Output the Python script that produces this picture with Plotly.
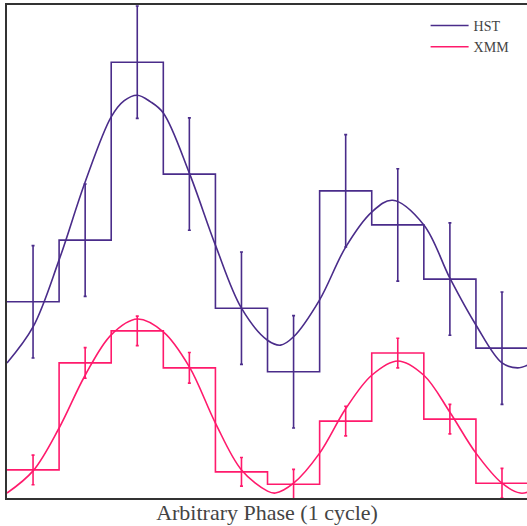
import plotly.graph_objects as go

# Phase bins (10 bins over one cycle)
bin_edges = [0.0, 0.1, 0.2, 0.3, 0.4, 0.5, 0.6, 0.7, 0.8, 0.9, 1.0]
bin_centers = [0.05, 0.15, 0.25, 0.35, 0.45, 0.55, 0.65, 0.75, 0.85, 0.95]

# Binned light curves (arbitrary flux units)
hst_vals = [39.8, 52.3, 88.4, 65.7, 38.5, 25.6, 62.3, 55.4, 44.4, 30.4]
hst_err = [11.4, 11.4, 11.4, 11.4, 11.4, 11.4, 11.4, 11.4, 11.4, 11.4]
xmm_vals = [5.7, 27.4, 33.9, 26.4, 5.3, 2.8, 15.6, 29.4, 16.0, 3.0]
xmm_err = [3.0, 3.1, 3.0, 3.1, 2.9, 3.0, 3.0, 3.0, 3.0, 3.0]

# Fitted model curves, sampled off the figure
hst_fit_phase = [0.0, 0.05, 0.10, 0.15, 0.20, 0.225, 0.25, 0.275, 0.30, 0.35, 0.40,
                 0.45, 0.50, 0.525, 0.55, 0.60, 0.65, 0.70, 0.74, 0.80, 0.85,
                 0.90, 0.95, 0.98, 1.0]
hst_fit = [27.4, 34.7, 48.3, 64.1, 77.3, 80.6, 81.7, 80.4, 78.1, 65.9, 51.3,
           38.5, 32.0, 31.0, 32.7, 40.2, 50.9, 58.0, 60.4, 55.4, 44.6,
           35.1, 27.4, 26.4, 27.0]
xmm_fit_phase = [0.0, 0.05, 0.10, 0.15, 0.20, 0.25, 0.30, 0.35, 0.40, 0.45, 0.50,
                 0.515, 0.55, 0.60, 0.65, 0.70, 0.75, 0.80, 0.85, 0.90, 0.95,
                 0.985, 1.0]
xmm_fit = [1.0, 5.5, 14.2, 24.9, 33.1, 36.3, 33.7, 26.6, 15.2, 5.7, 1.4,
           1.0, 3.0, 9.1, 18.1, 24.9, 27.8, 24.9, 17.4, 9.1, 3.0,
           1.0, 1.2]

HST_COLOR = "#4a2c8a"
XMM_COLOR = "#ff1a6c"

fig = go.Figure()

for name, vals, err, phase, fit, color in [
    ("HST", hst_vals, hst_err, hst_fit_phase, hst_fit, HST_COLOR),
    ("XMM", xmm_vals, xmm_err, xmm_fit_phase, xmm_fit, XMM_COLOR),
]:
    # step histogram
    fig.add_trace(go.Scatter(
        x=bin_edges, y=vals + [vals[-1]], mode="lines",
        line=dict(color=color, width=1.6, shape="hv"),
        showlegend=False, hoverinfo="skip"))
    # error bars
    fig.add_trace(go.Scatter(
        x=bin_centers, y=vals, mode="markers",
        marker=dict(size=1, color=color, opacity=0),
        error_y=dict(type="data", array=err, visible=True, color=color,
                     thickness=1.6, width=1.5),
        showlegend=False, hoverinfo="skip"))
    # fit curve
    fig.add_trace(go.Scatter(
        x=phase, y=fit, mode="lines", name=name,
        line=dict(color=color, width=1.6, shape="spline", smoothing=1.0)))

fig.update_layout(
    width=527, height=526,
    margin=dict(l=7, r=0, t=5, b=28),
    paper_bgcolor="white", plot_bgcolor="white",
    font=dict(family="Liberation Serif, DejaVu Serif, serif", color="#444444"),
    showlegend=True,
    legend=dict(x=0.805, y=0.99, xanchor="left", yanchor="top",
                bgcolor="rgba(0,0,0,0)", borderwidth=0, itemwidth=38,
                font=dict(size=14, color="#444444"), tracegroupgap=0),
    xaxis=dict(range=[0, 0.998], showgrid=False, zeroline=False,
               showticklabels=False, ticks="", showline=True,
               linecolor="#333333", linewidth=2, mirror=True,
               title=dict(text="Arbitrary Phase (1 cycle)",
                          font=dict(size=22, color="#444444"), standoff=6)),
    yaxis=dict(range=[0, 100], showgrid=False, zeroline=False,
               showticklabels=False, ticks="", showline=True,
               linecolor="#333333", linewidth=2, mirror=False),
)

fig.write_html("out.html")
